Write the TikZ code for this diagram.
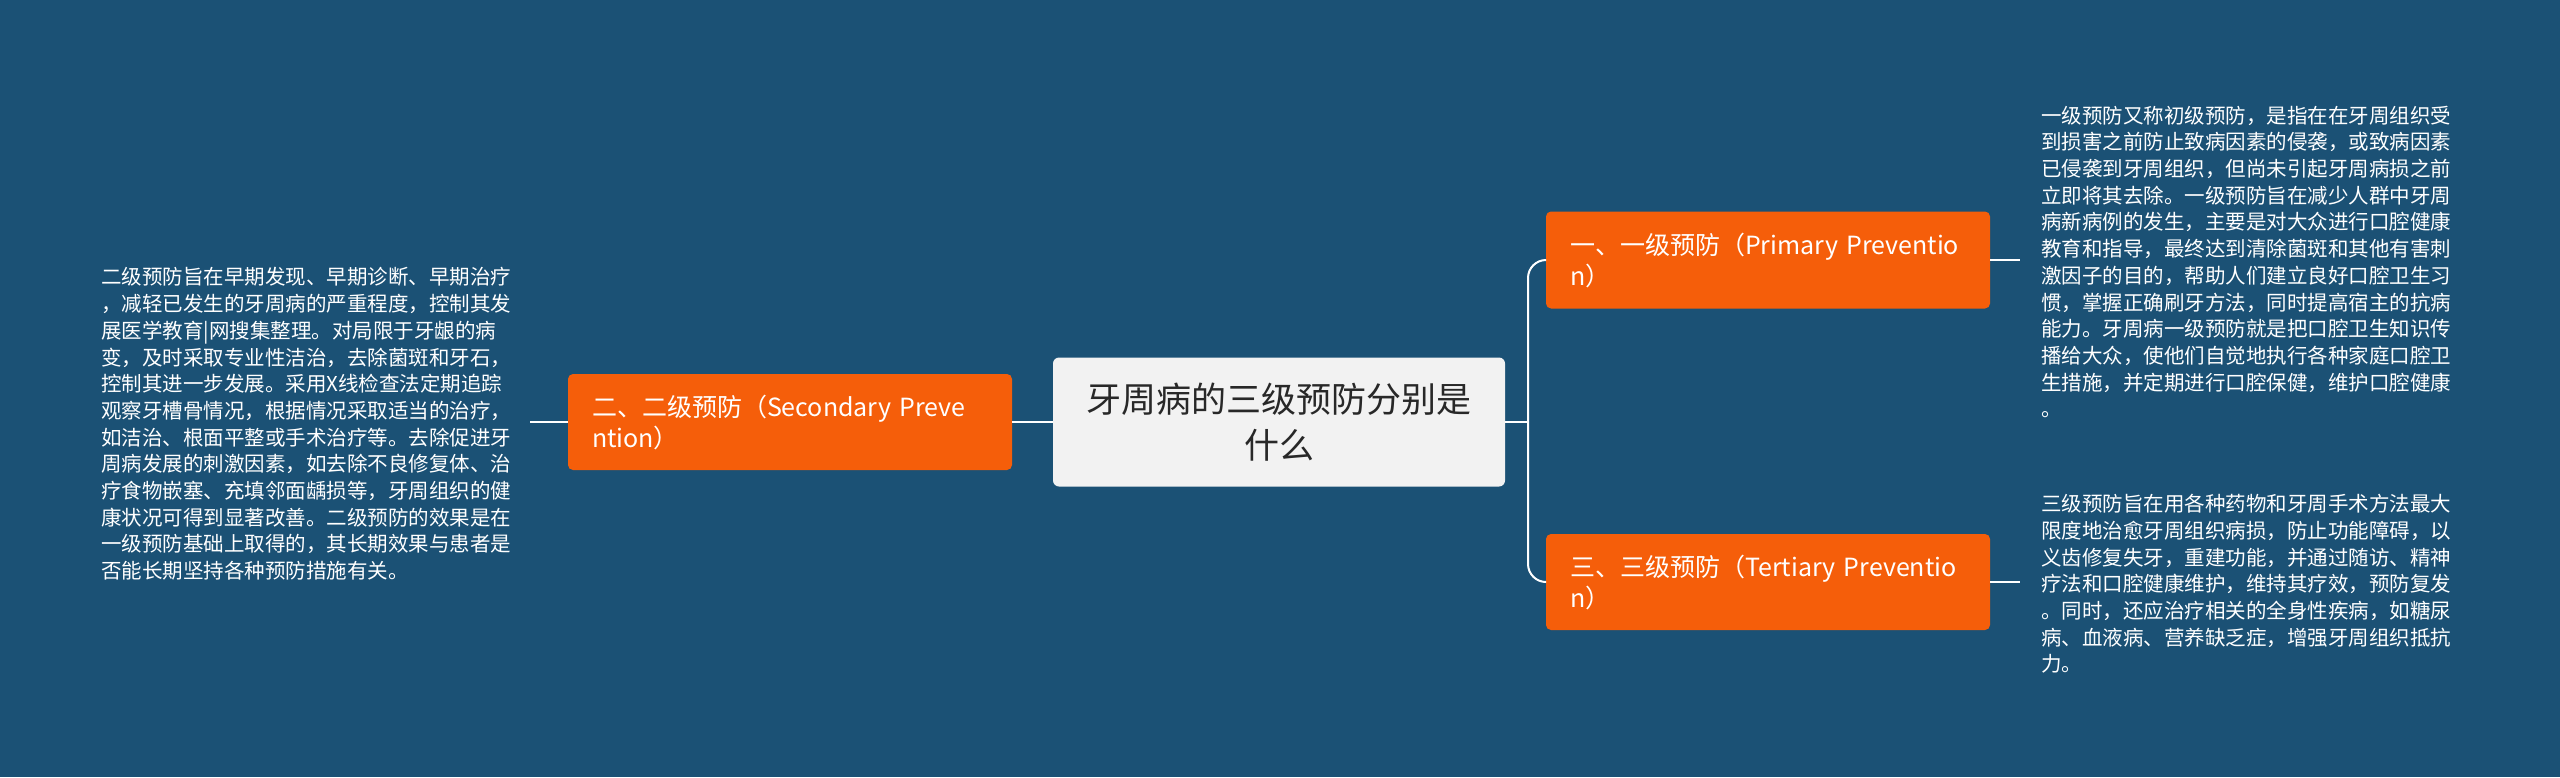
\documentclass[tikz,border=0pt]{standalone}
\usepackage{fontspec}
\setmainfont{Noto Sans CJK SC}
\begin{document}
\begin{tikzpicture}[x=1pt,y=-1pt,
 bg/.style={fill={rgb,255:red,27;green,81;blue,117}},
 orng/.style={fill={rgb,255:red,245;green,94;blue,10},rounded corners=5pt,text=white,font=\fontsize{25}{31}\selectfont,align=left,inner sep=0pt,text width=420pt},
 desc/.style={text=white,font=\fontsize{20.5}{26.7}\selectfont,align=left,inner sep=0pt,anchor=west},
 ln/.style={draw=white,line width=2pt}]
\fill[bg] (0,0) rectangle (2560,777);
\useasboundingbox (0,0) rectangle (2560,777);
\node[fill={rgb,255:red,242;green,242;blue,242},rounded corners=6pt,minimum width=452pt,minimum height=129pt,align=center,font=\fontsize{35}{46}\selectfont,text={rgb,255:red,40;green,40;blue,40}] (c) at (1279,422) {牙周病的三级预防分别是\\什么};
\node[orng,minimum width=444pt,minimum height=96pt] (l) at (790,422) {\hspace*{12pt}二、二级预防（Secondary Preve\\\hspace*{12pt}ntion）};
\node[orng,minimum width=444pt,minimum height=97pt] (r1) at (1768,260) {\hspace*{12pt}一、一级预防（Primary Preventio\\\hspace*{12pt}n）};
\node[orng,minimum width=444pt,minimum height=96pt] (r2) at (1768,582) {\hspace*{12pt}三、三级预防（Tertiary Preventio\\\hspace*{12pt}n）};
\node[desc] (tl) at (101,424) {二级预防旨在早期发现、早期诊断、早期治疗\\，减轻已发生的牙周病的严重程度，控制其发\\展医学教育|网搜集整理。对局限于牙龈的病\\变，及时采取专业性洁治，去除菌斑和牙石，\\控制其进一步发展。采用X线检查法定期追踪\\观察牙槽骨情况，根据情况采取适当的治疗，\\如洁治、根面平整或手术治疗等。去除促进牙\\周病发展的刺激因素，如去除不良修复体、治\\疗食物嵌塞、充填邻面龋损等，牙周组织的健\\康状况可得到显著改善。二级预防的效果是在\\一级预防基础上取得的，其长期效果与患者是\\否能长期坚持各种预防措施有关。};
\node[desc] (t1) at (2041,262) {一级预防又称初级预防，是指在在牙周组织受\\到损害之前防止致病因素的侵袭，或致病因素\\已侵袭到牙周组织，但尚未引起牙周病损之前\\立即将其去除。一级预防旨在减少人群中牙周\\病新病例的发生，主要是对大众进行口腔健康\\教育和指导，最终达到清除菌斑和其他有害刺\\激因子的目的，帮助人们建立良好口腔卫生习\\惯，掌握正确刷牙方法，同时提高宿主的抗病\\能力。牙周病一级预防就是把口腔卫生知识传\\播给大众，使他们自觉地执行各种家庭口腔卫\\生措施，并定期进行口腔保健，维护口腔健康\\。};
\node[desc] (t2) at (2041,584) {三级预防旨在用各种药物和牙周手术方法最大\\限度地治愈牙周组织病损，防止功能障碍，以\\义齿修复失牙，重建功能，并通过随访、精神\\疗法和口腔健康维护，维持其疗效，预防复发\\。同时，还应治疗相关的全身性疾病，如糖尿\\病、血液病、营养缺乏症，增强牙周组织抵抗\\力。};
\draw[ln] (c.west) -- (l.east);
\draw[ln] (l.west) -- ++(-38,0);
\coordinate (j) at (1528,422);
\draw[ln] (c.east) -- (j);
\draw[ln,rounded corners=18pt] (j) |- (r1.west);
\draw[ln,rounded corners=18pt] (j) |- (r2.west);
\draw[ln] (r1.east) -- ++(30,0);
\draw[ln] (r2.east) -- ++(30,0);
\end{tikzpicture}
\end{document}
